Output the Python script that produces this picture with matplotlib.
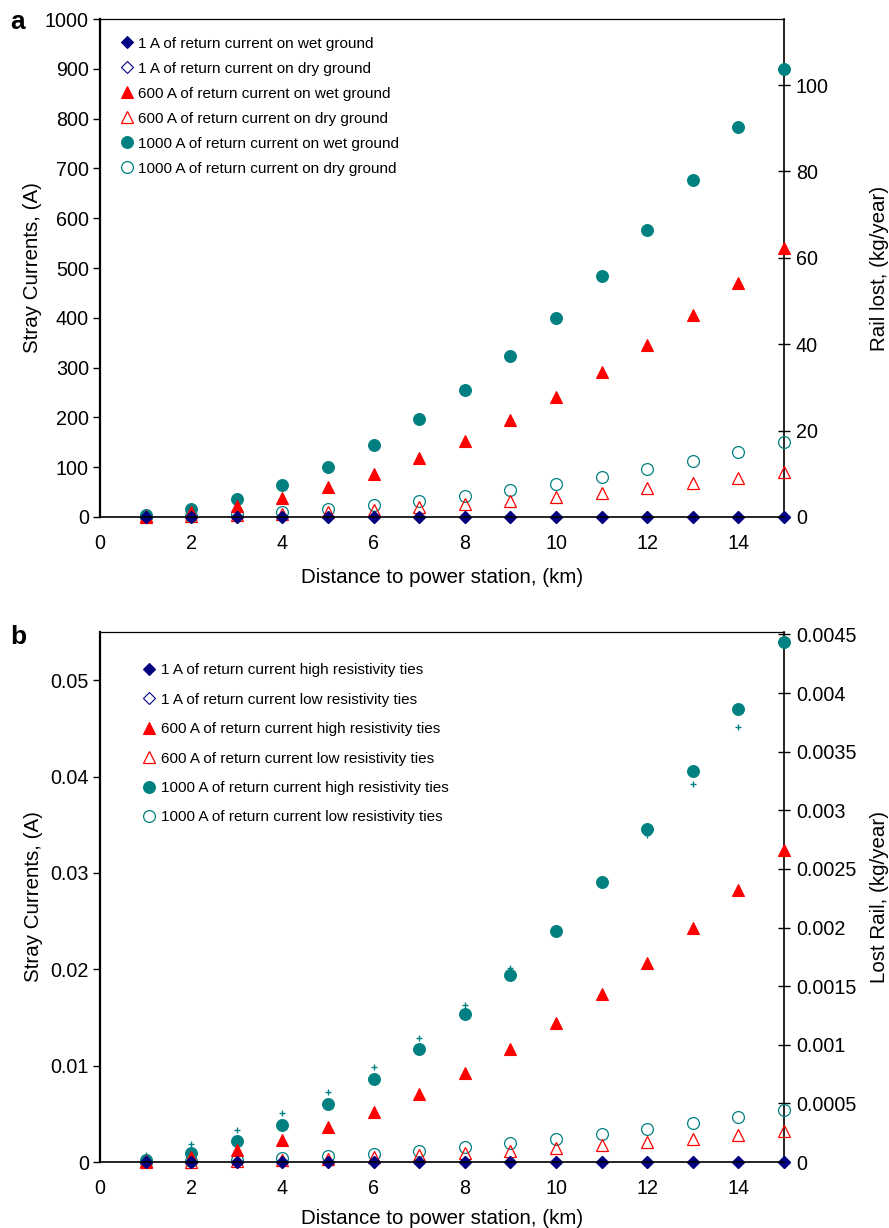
import numpy as np
import matplotlib.pyplot as plt
from matplotlib.ticker import FuncFormatter

plt.rcParams['font.family'] = ['Liberation Sans', 'DejaVu Sans']

# Distance to power station, km
km = np.arange(1, 16)

# (a) stray current vs distance, wet / dry ground
a_1A_wet = [0.004, 0.016, 0.036, 0.064, 0.1, 0.144, 0.196, 0.256, 0.324, 0.4, 0.484, 0.576, 0.676, 0.784, 0.9]
a_1A_dry = [0.0007, 0.0027, 0.006, 0.0107, 0.0167, 0.024, 0.0327, 0.0427, 0.054, 0.0667, 0.0807, 0.096, 0.1127, 0.1307, 0.15]
a_600A_wet = [2.4, 9.6, 21.6, 38.4, 60, 86.4, 117.6, 153.6, 194.4, 240, 290.4, 345.6, 405.6, 470.4, 540]
a_600A_dry = [0.4, 1.6, 3.6, 6.4, 10, 14.4, 19.6, 25.6, 32.4, 40, 48.4, 57.6, 67.6, 78.4, 90]
a_1000A_wet = [4, 16, 36, 64, 100, 144, 196, 256, 324, 400, 484, 576, 676, 784, 900]
a_1000A_dry = [0.67, 2.67, 6, 10.7, 16.7, 24, 32.7, 42.7, 54, 66.7, 80.7, 96, 112.7, 130.7, 150]

# (b) stray current vs distance, high / low resistivity ties
b_1A_high = [2.4e-7, 9.6e-7, 2.2e-6, 3.8e-6, 6e-6, 8.6e-6, 1.2e-5, 1.5e-5, 1.9e-5, 2.4e-5, 2.9e-5, 3.5e-5, 4.1e-5, 4.7e-5, 5.4e-5]
b_1A_low = [2.4e-8, 9.6e-8, 2.2e-7, 3.8e-7, 6e-7, 8.6e-7, 1.2e-6, 1.5e-6, 1.9e-6, 2.4e-6, 2.9e-6, 3.5e-6, 4.1e-6, 4.7e-6, 5.4e-6]
b_600A_high = [0.000144, 0.000576, 0.0013, 0.0023, 0.0036, 0.0052, 0.0071, 0.0092, 0.0117, 0.0144, 0.0174, 0.0207, 0.0243, 0.0282, 0.0324]
b_600A_low = [0.0000144, 0.0000576, 0.00013, 0.00023, 0.00036, 0.00052, 0.00071, 0.00092, 0.00117, 0.00144, 0.00174, 0.00207, 0.00243, 0.00282, 0.00324]
b_1000A_high = [0.00024, 0.00096, 0.00216, 0.00384, 0.006, 0.00864, 0.01176, 0.01536, 0.01944, 0.024, 0.02904, 0.03456, 0.04056, 0.04704, 0.054]
b_1000A_low = [0.000024, 0.000096, 0.000216, 0.000384, 0.0006, 0.000864, 0.001176, 0.001536, 0.001944, 0.0024, 0.002904, 0.003456, 0.004056, 0.004704, 0.0054]
# small cross marks next to the 1000 A high resistivity points
b_cross_km = np.arange(1, 15)
b_cross = [0.0007, 0.0019, 0.0033, 0.0051, 0.0073, 0.0099, 0.0129, 0.0163, 0.0201, 0.0241, 0.0287, 0.0339, 0.0392, 0.0451]

NAVY = '#000080'
RED = '#ff0000'
TEAL = '#008080'
TICK_FS = 14.2
LABEL_FS = 14.8
LEGEND_FS = 11

fig = plt.figure(figsize=(8.89, 12.28), dpi=100)


def style_axes(ax, ax2):
    ax.spines['top'].set_linewidth(0.9)
    ax.spines['left'].set_linewidth(1.6)
    ax.spines['bottom'].set_linewidth(1.2)
    ax.spines['right'].set_visible(False)
    ax2.spines['right'].set_linewidth(1.2)
    for s in ['top', 'left', 'bottom']:
        ax2.spines[s].set_visible(False)
    ax.tick_params(axis='y', direction='out', length=5, width=1, labelsize=TICK_FS, pad=3)
    ax.tick_params(axis='x', length=0, labelsize=TICK_FS, pad=12)
    ax2.tick_params(axis='y', direction='inout', length=9, width=1, labelsize=TICK_FS, pad=4)
    ax.set_xlim(0, 15)
    ax.set_xticks(range(0, 15, 2))


def draw_series(ax, series, labels, spacing):
    styles = [
        dict(marker='D', ms=6.3, mfc=NAVY, mec=NAVY, mew=0.8),
        dict(marker='D', ms=6.3, mfc='none', mec=NAVY, mew=0.8),
        dict(marker='^', ms=9, mfc=RED, mec=RED, mew=0.8),
        dict(marker='^', ms=9, mfc='none', mec=RED, mew=0.9),
        dict(marker='o', ms=8.5, mfc=TEAL, mec=TEAL, mew=0.8),
        dict(marker='o', ms=8.5, mfc='none', mec=TEAL, mew=0.9),
    ]
    handles = [None] * 6
    # circles first, diamonds last so they sit on top
    for i in [5, 4, 3, 2, 1, 0]:
        h, = ax.plot(km, series[i], linestyle='none', label=labels[i], clip_on=False, **styles[i])
        handles[i] = h
    return ax.legend(handles=handles, loc='upper left', frameon=False, fontsize=LEGEND_FS,
                     handletextpad=0.0, handlelength=1.5, labelspacing=spacing,
                     borderaxespad=0.6)


# ---- panel a ----
axa = fig.add_axes([0.1125, 0.579, 0.7694, 0.4055])
axa2 = axa.twinx()
style_axes(axa, axa2)
labels_a = ['1 A of return current on wet ground', '1 A of return current on dry ground',
            '600 A of return current on wet ground', '600 A of return current on dry ground',
            '1000 A of return current on wet ground', '1000 A of return current on dry ground']
leg_a = draw_series(axa, [a_1A_wet, a_1A_dry, a_600A_wet, a_600A_dry, a_1000A_wet, a_1000A_dry], labels_a, 0.72)
leg_a.set_bbox_to_anchor((0.0, 0.995))
axa.set_ylim(0, 1000)
axa.set_yticks(range(0, 1001, 100))
axa2.set_ylim(0, 115.3)
axa2.set_yticks(range(0, 101, 20))
axa.set_ylabel('Stray Currents, (A)', fontsize=LABEL_FS, labelpad=2)
axa2.set_ylabel('Rail lost, (kg/year)', fontsize=LABEL_FS, labelpad=30)
axa.set_xlabel('Distance to power station, (km)', fontsize=LABEL_FS, labelpad=11)
axa.set_zorder(axa2.get_zorder() + 1)
axa.patch.set_visible(False)
fig.text(0.012, 0.982, 'a', fontsize=19, fontweight='bold', va='center')

# ---- panel b ----
axb = fig.add_axes([0.1125, 0.0537, 0.7694, 0.4316])
axb2 = axb.twinx()
style_axes(axb, axb2)
labels_b = ['1 A of return current high resistivity ties', '1 A of return current low resistivity ties',
            '600 A of return current high resistivity ties', '600 A of return current low resistivity ties',
            '1000 A of return current high resistivity ties', '1000 A of return current low resistivity ties']
axb.plot(b_cross_km, b_cross, linestyle='none', marker='+', ms=4, mew=1, color=TEAL)
leg_b = draw_series(axb, [b_1A_high, b_1A_low, b_600A_high, b_600A_low, b_1000A_high, b_1000A_low], labels_b, 1.01)
leg_b.set_bbox_to_anchor((0.033, 0.97))
axb.set_ylim(0, 0.055)
axb.set_yticks(np.arange(0, 0.051, 0.01))
axb.yaxis.set_major_formatter(FuncFormatter(lambda v, p: f'{round(v, 4):g}'))
axb2.set_ylim(0, 0.00452)
axb2.set_yticks(np.arange(0, 0.00451, 0.0005))
axb2.yaxis.set_major_formatter(FuncFormatter(lambda v, p: f'{round(v, 5):g}'))
axb.set_ylabel('Stray Currents, (A)', fontsize=LABEL_FS, labelpad=5)
axb2.set_ylabel('Lost Rail, (kg/year)', fontsize=LABEL_FS, labelpad=10)
axb.set_xlabel('Distance to power station, (km)', fontsize=LABEL_FS, labelpad=8)
axb.set_zorder(axb2.get_zorder() + 1)
axb.patch.set_visible(False)
fig.text(0.012, 0.481, 'b', fontsize=19, fontweight='bold', va='center')

fig.savefig('out.png', dpi=100)
